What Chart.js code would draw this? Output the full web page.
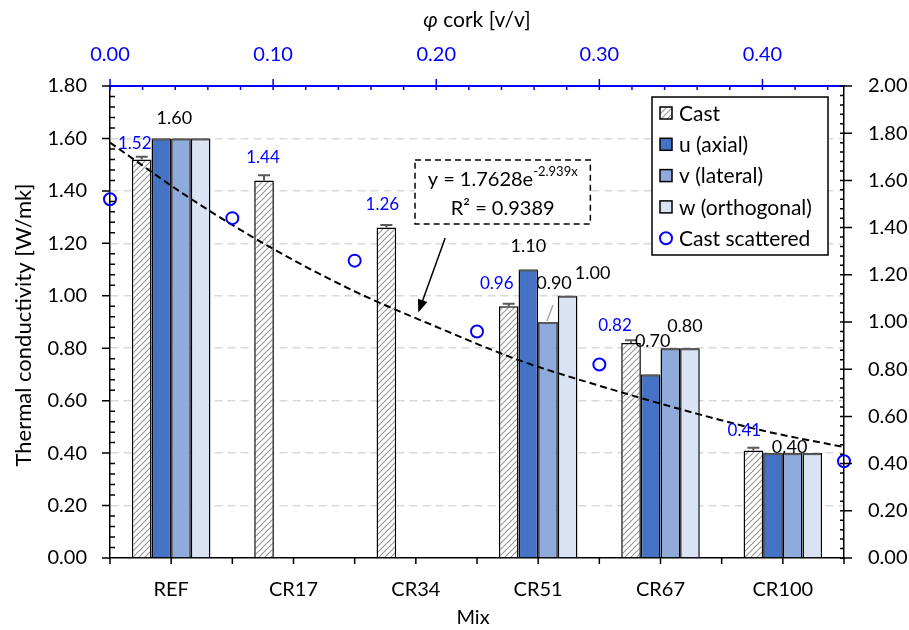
<!DOCTYPE html>
<html>
<head>
<meta charset="utf-8">
<script src="https://cdn.jsdelivr.net/npm/chart.js@4.4.1/dist/chart.umd.min.js"></script>
<style>
  html, body { margin: 0; padding: 0; background: #fff; }
  #wrap { width: 909px; height: 630px; position: relative; }
</style>
</head>
<body>
<div id="wrap"><canvas id="chart"></canvas></div>
<script>
// categories and values
const categories = ['REF', 'CR17', 'CR34', 'CR51', 'CR67', 'CR100'];
const castValues = [1.52, 1.44, 1.26, 0.96, 0.82, 0.41];
const castErrors = [0.01, 0.02, 0.01, 0.01, 0.01, 0.01];
const uValues = [1.60, null, null, 1.10, 0.70, 0.40];
const vValues = [1.60, null, null, 0.90, 0.80, 0.40];
const wValues = [1.60, null, null, 1.00, 0.80, 0.40];

// scattered cast values against cork fraction (top / right axes)
const phiCork = [0.00, 0.075, 0.15, 0.225, 0.30, 0.45];
const castScattered = [1.52, 1.44, 1.26, 0.96, 0.82, 0.41];

// exponential trend line
const trendPhi = [0.00, 0.05, 0.10, 0.15, 0.20, 0.25, 0.30, 0.35, 0.40, 0.45];
const trendValues = [1.76, 1.52, 1.31, 1.13, 0.98, 0.84, 0.73, 0.63, 0.54, 0.47];

const topTicks = [0.00, 0.10, 0.20, 0.30, 0.40];
const equationText = ['y = 1.7628e', '-2.939x', 'R\u00b2 = 0.9389'];

const FONT = 'Lato, "Open Sans", sans-serif';
const BLUE = '#0000FF';

// Chart.js 4.5 splits bar groups per x axis id; the top axis only carries
// the scatter, so keep the bars in one group
if (Chart.BarController && Chart.BarController.prototype._getAxisCount) {
  Chart.BarController.prototype._getAxisCount = function () { return 1; };
}

// diagonal hatch for the Cast bars
function makeHatch() {
  const c = document.createElement('canvas');
  c.width = 6; c.height = 6;
  const g = c.getContext('2d');
  g.fillStyle = '#fff';
  g.fillRect(0, 0, 6, 6);
  g.strokeStyle = '#999';
  g.lineWidth = 1.2;
  g.beginPath();
  g.moveTo(0, 6); g.lineTo(6, 0);
  g.moveTo(-1, 1); g.lineTo(1, -1);
  g.moveTo(5, 7); g.lineTo(7, 5);
  g.stroke();
  return g.createPattern(c, 'repeat');
}
const hatch = makeHatch();

const toXY = (xs, ys) => xs.map((x, i) => ({ x: x, y: ys[i] }));

// extra ticks, minor ticks, titles
const axisDecor = {
  id: 'axisDecor',
  afterDatasetsDraw(chart) {
    const { ctx, chartArea: a, scales } = chart;
    ctx.save();
    ctx.lineWidth = 1.5;
    ctx.strokeStyle = '#000';
    ctx.beginPath();
    for (let k = 0; k <= 45; k++) {
      const y = scales.y.getPixelForValue(k * 0.04);
      if (k % 5 === 0) { ctx.moveTo(a.left - 8, y); ctx.lineTo(a.left, y); }
      else { ctx.moveTo(a.left, y); ctx.lineTo(a.left + 5, y); }
    }
    for (let k = 0; k <= 50; k++) {
      const y = scales.yRight.getPixelForValue(k * 0.04);
      if (k % 5 === 0) { ctx.moveTo(a.right - 4, y); ctx.lineTo(a.right + 8, y); }
      else { ctx.moveTo(a.right - 4, y); ctx.lineTo(a.right, y); }
    }
    const step = (a.right - a.left) / (categories.length * 2);
    for (let i = 0; i <= categories.length * 2; i++) {
      const x = a.left + i * step;
      ctx.moveTo(x, a.bottom); ctx.lineTo(x, a.bottom + 6);
    }
    ctx.stroke();
    ctx.strokeStyle = BLUE;
    ctx.beginPath();
    for (let k = 0; k <= 22; k++) {
      const x = scales.xTop.getPixelForValue(k * 0.02);
      if (k % 5 === 0) { ctx.moveTo(x, a.top - 7); ctx.lineTo(x, a.top + 4); }
      else { ctx.moveTo(x, a.top); ctx.lineTo(x, a.top + 4); }
    }
    ctx.stroke();
    ctx.restore();
  },
  afterDraw(chart) {
    const { ctx, chartArea: a } = chart;
    const cx = (a.left + a.right) / 2;
    ctx.save();
    ctx.fillStyle = '#000';
    ctx.textBaseline = 'middle';
    ctx.font = 'italic 21px ' + FONT;
    const phiW = ctx.measureText('\u03c6').width;
    ctx.font = '21px ' + FONT;
    const restW = ctx.measureText(' cork [v/v]').width;
    const x0 = cx - (phiW + restW) / 2;
    ctx.textAlign = 'left';
    ctx.font = 'italic 21px ' + FONT;
    ctx.fillText('\u03c6', x0, 20);
    ctx.font = '21px ' + FONT;
    ctx.fillText(' cork [v/v]', x0 + phiW, 20);
    ctx.textAlign = 'center';
    ctx.font = '20px ' + FONT;
    ctx.fillText('Mix', cx - 4, 618);
    ctx.font = '22px ' + FONT;
    ctx.translate(24, (a.top + a.bottom) / 2 + 3);
    ctx.rotate(-Math.PI / 2);
    ctx.fillText('Thermal conductivity [W/mk]', 0, 0);
    ctx.restore();
  }
};

// gray caps on bar tops (error bars)
const barCaps = {
  id: 'barCaps',
  afterDatasetDraw(chart, args) {
    if (args.index > 3) return;
    const { ctx } = chart;
    const y = chart.scales.y;
    ctx.save();
    ctx.strokeStyle = '#595959';
    ctx.lineWidth = 2;
    args.meta.data.forEach((bar, i) => {
      const val = chart.data.datasets[args.index].data[i];
      if (val == null) return;
      ctx.beginPath();
      if (args.index === 0) {
        const e = y.getPixelForValue(val + castErrors[i]);
        ctx.moveTo(bar.x, bar.y); ctx.lineTo(bar.x, e);
        ctx.moveTo(bar.x - 6, e); ctx.lineTo(bar.x + 6, e);
      } else {
        ctx.moveTo(bar.x - bar.width / 2 + 1, bar.y + 1);
        ctx.lineTo(bar.x + bar.width / 2 - 1, bar.y + 1);
      }
      ctx.stroke();
    });
    ctx.restore();
  }
};

// value labels, nudged as in the picture
const labelSpots = [
  { ds: 0, i: 0, dx: -7, dy: -16 }, { ds: 0, i: 1, dx: -1, dy: -23 },
  { ds: 0, i: 2, dx: -4, dy: -23 }, { ds: 0, i: 3, dx: -12, dy: -23 },
  { ds: 0, i: 4, dx: -16, dy: -17 }, { ds: 0, i: 5, dx: -9, dy: -20 },
  { ds: 1, i: 0, dx: 13, dy: -20 }, { ds: 1, i: 3, dx: 0, dy: -23 },
  { ds: 2, i: 3, dx: 6, dy: -39, leader: true }, { ds: 3, i: 3, dx: 25, dy: -23 },
  { ds: 1, i: 4, dx: 2, dy: -33 }, { ds: 3, i: 4, dx: -5, dy: -22 },
  { ds: 2, i: 5, dx: -3, dy: -6 }
];
const valueLabels = {
  id: 'valueLabels',
  afterDraw(chart) {
    const { ctx } = chart;
    ctx.save();
    ctx.textAlign = 'center';
    ctx.textBaseline = 'middle';
    labelSpots.forEach(s => {
      const bar = chart.getDatasetMeta(s.ds).data[s.i];
      const val = chart.data.datasets[s.ds].data[s.i];
      if (s.leader) {
        ctx.strokeStyle = '#a6a6a6';
        ctx.lineWidth = 1.5;
        ctx.beginPath();
        ctx.moveTo(bar.x - 1, bar.y - 1);
        ctx.lineTo(bar.x + 5, bar.y - 17);
        ctx.stroke();
      }
      ctx.fillStyle = s.ds === 0 ? BLUE : '#000';
      ctx.font = (s.ds === 0 ? '17px ' : '18px ') + FONT;
      ctx.fillText(val.toFixed(2), bar.x + s.dx, bar.y + s.dy);
    });
    ctx.restore();
  }
};

// equation box and arrow, anchored on the top/right scales
const trendNote = {
  id: 'trendNote',
  afterDraw(chart) {
    const { ctx } = chart;
    const sx = chart.scales.xTop, sy = chart.scales.yRight;
    const l = sx.getPixelForValue(0.187), r = sx.getPixelForValue(0.2945);
    const t = sy.getPixelForValue(1.686), b = sy.getPixelForValue(1.415);
    ctx.save();
    ctx.fillStyle = '#fff';
    ctx.fillRect(l, t, r - l, b - t);
    ctx.setLineDash([6, 4]);
    ctx.strokeStyle = '#000';
    ctx.lineWidth = 1.5;
    ctx.strokeRect(l, t, r - l, b - t);
    ctx.setLineDash([]);
    ctx.fillStyle = '#000';
    ctx.textBaseline = 'middle';
    ctx.textAlign = 'left';
    const cx = (l + r) / 2;
    ctx.font = '20px ' + FONT;
    const w1 = ctx.measureText(equationText[0]).width;
    ctx.font = '13px ' + FONT;
    const w2 = ctx.measureText(equationText[1]).width;
    const x0 = cx - (w1 + w2) / 2;
    ctx.font = '20px ' + FONT;
    ctx.fillText(equationText[0], x0, t + 19);
    ctx.font = '13px ' + FONT;
    ctx.fillText(equationText[1], x0 + w1, t + 12);
    ctx.font = '20px ' + FONT;
    ctx.textAlign = 'center';
    ctx.fillText(equationText[2], cx, t + 48);
    const x1 = sx.getPixelForValue(0.2055), y1 = sy.getPixelForValue(1.356);
    const x2 = sx.getPixelForValue(0.189), y2 = sy.getPixelForValue(1.04);
    const ang = Math.atan2(y2 - y1, x2 - x1);
    ctx.beginPath();
    ctx.moveTo(x1, y1);
    ctx.lineTo(x2 - 10 * Math.cos(ang), y2 - 10 * Math.sin(ang));
    ctx.stroke();
    ctx.beginPath();
    ctx.moveTo(x2, y2);
    ctx.lineTo(x2 - 13 * Math.cos(ang) + 5 * Math.sin(ang), y2 - 13 * Math.sin(ang) - 5 * Math.cos(ang));
    ctx.lineTo(x2 - 13 * Math.cos(ang) - 5 * Math.sin(ang), y2 - 13 * Math.sin(ang) + 5 * Math.cos(ang));
    ctx.closePath();
    ctx.fill();
    ctx.restore();
  }
};

// legend box inside the plot, top right
const boxLegend = {
  id: 'boxLegend',
  afterDraw(chart) {
    const { ctx, chartArea: a } = chart;
    const r = a.right - 16, t = a.top + 11, l = r - 176, b = t + 158;
    ctx.save();
    ctx.fillStyle = '#fff';
    ctx.fillRect(l, t, r - l, b - t);
    ctx.strokeStyle = '#000';
    ctx.lineWidth = 1.5;
    ctx.strokeRect(l, t, r - l, b - t);
    ctx.font = '21px ' + FONT;
    ctx.textBaseline = 'middle';
    ctx.textAlign = 'left';
    chart.data.datasets.forEach((ds, i) => {
      if (ds.hideInLegend) return;
      const y = t + 16 + i * 31.3;
      if (ds.type === 'scatter') {
        ctx.strokeStyle = BLUE;
        ctx.lineWidth = 2;
        ctx.beginPath();
        ctx.arc(l + 14, y, 6, 0, Math.PI * 2);
        ctx.stroke();
      } else {
        ctx.fillStyle = ds.backgroundColor;
        ctx.fillRect(l + 8, y - 6, 12, 12);
        ctx.strokeStyle = '#000';
        ctx.lineWidth = 1.5;
        ctx.strokeRect(l + 8, y - 6, 12, 12);
      }
      ctx.fillStyle = '#000';
      ctx.fillText(ds.label, l + 27, y + 1);
    });
    ctx.restore();
  }
};

const barStyle = { borderColor: '#000', borderWidth: 1.5, order: 3 };

new Chart(document.getElementById('chart'), {
  type: 'bar',
  data: {
    labels: categories,
    datasets: [
      Object.assign({ label: 'Cast', data: castValues, backgroundColor: hatch }, barStyle),
      Object.assign({ label: 'u (axial)', data: uValues, backgroundColor: '#4472C4' }, barStyle),
      Object.assign({ label: 'v (lateral)', data: vValues, backgroundColor: '#8FAADC' }, barStyle),
      Object.assign({ label: 'w (orthogonal)', data: wValues, backgroundColor: '#DAE3F3' }, barStyle),
      {
        type: 'scatter', label: 'Cast scattered',
        data: toXY(phiCork, castScattered),
        xAxisID: 'xTop', yAxisID: 'yRight',
        borderColor: BLUE, backgroundColor: 'rgba(0,0,0,0)',
        pointRadius: 6, borderWidth: 2, clip: false, order: 1
      },
      {
        type: 'line', label: 'trend', hideInLegend: true,
        data: toXY(trendPhi, trendValues),
        xAxisID: 'xTop', yAxisID: 'yRight',
        borderColor: '#000', borderWidth: 2, borderDash: [7, 4],
        pointRadius: 0, tension: 0.4, cubicInterpolationMode: 'monotone',
        fill: false, order: 2
      }
    ]
  },
  options: {
    responsive: true,
    maintainAspectRatio: false,
    devicePixelRatio: 1,
    animation: false,
    layout: { padding: 0 },
    datasets: { bar: { barPercentage: 1, categoryPercentage: 0.642 } },
    plugins: { legend: { display: false }, tooltip: { enabled: false } },
    scales: {
      x: {
        type: 'category', position: 'bottom', offset: true,
        grid: { display: false, drawTicks: false },
        border: { color: '#000', width: 1.5 },
        ticks: { color: '#000', font: { family: FONT, size: 20 }, padding: 20, autoSkip: false, maxRotation: 0 },
        afterFit(s) { s.height = 72; }
      },
      xTop: {
        type: 'linear', position: 'top', min: 0, max: 0.45, offset: false,
        grid: { display: false, drawTicks: false, offset: false },
        border: { color: BLUE, width: 2 },
        ticks: { color: BLUE, font: { family: FONT, size: 20 }, padding: 19, maxRotation: 0,
                 callback: v => v.toFixed(2) },
        afterBuildTicks(s) { s.ticks = topTicks.map(v => ({ value: v })); },
        afterFit(s) { s.height = 86; }
      },
      y: {
        position: 'left', min: 0, max: 1.8,
        grid: {
          drawTicks: false, lineWidth: 1.5,
          color: c => (c.tick.value <= 0 || c.tick.value >= 1.79) ? 'rgba(0,0,0,0)' : '#D9D9D9'
        },
        border: { color: '#000', width: 1.5, dash: [8, 5] },
        ticks: { stepSize: 0.2, color: '#000', font: { family: FONT, size: 20 }, padding: 23,
                 callback: v => v.toFixed(2) },
        afterFit(s) { s.width = 110; }
      },
      yRight: {
        position: 'right', min: 0, max: 2,
        grid: { display: false, drawTicks: false },
        border: { color: '#000', width: 1.5 },
        ticks: { stepSize: 0.2, color: '#000', font: { family: FONT, size: 20 }, padding: 24,
                 callback: v => v.toFixed(2) },
        afterFit(s) { s.width = 65; }
      }
    }
  },
  plugins: [axisDecor, barCaps, valueLabels, trendNote, boxLegend]
});
</script>
</body>
</html>
